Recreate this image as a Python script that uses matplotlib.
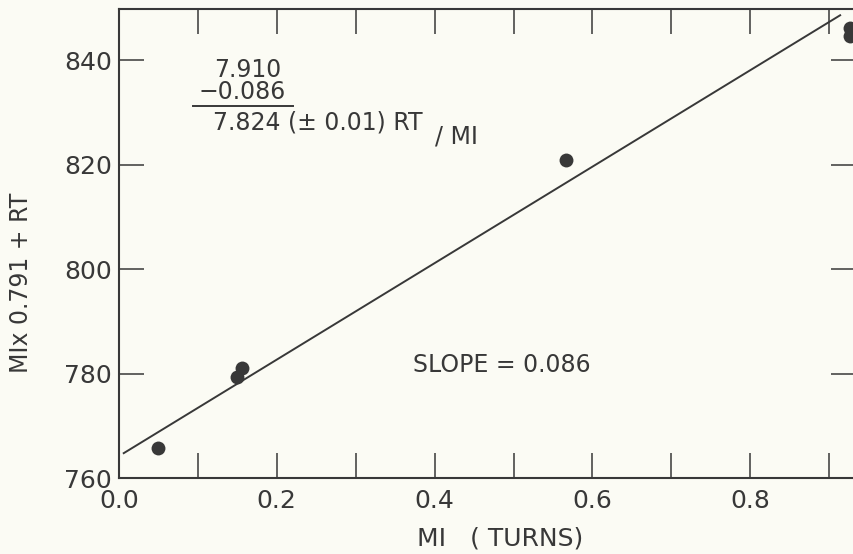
import numpy as np
import matplotlib
matplotlib.use('Agg')
from matplotlib import pyplot as plt

# values
mi_turns = [0.049, 0.150, 0.1555, 0.566, 0.9265, 0.9265]
mi_rt = [765.7, 779.3, 781.0, 820.8, 844.6, 846.1]

# least-squares line as drawn on the original
fit_x = [0.006, 0.914]
fit_slope = 92.3
fit_intercept = 764.2

x_ticks = [0.1 * i for i in range(10)]
x_labels = ['0.0', '', '0.2', '', '0.4', '', '0.6', '', '0.8', '']
y_ticks = [760, 780, 800, 820, 840]
y_labels = ['760', '780', '800', '820', '840']

ink = '#383838'
paper = '#fbfbf4'

plt.rcParams['font.family'] = ['DejaVu Sans']

fig = plt.figure(figsize=(8.54, 5.54), dpi=100, facecolor=paper)
ax = fig.add_axes([119 / 854, 76 / 554, 737 / 854, 469 / 554])
ax.set_facecolor(paper)

ax.set_xlim(0, 737 / 789)
ax.set_ylim(760, 760 + 469 / 5.225)

fit_y = [fit_intercept + fit_slope * x for x in fit_x]
ax.plot(fit_x, fit_y, color=ink, lw=1.4)
ax.plot(mi_turns, mi_rt, 'o', color=ink, ms=10, mec='none')

ax.set_xticks(x_ticks)
ax.set_xticklabels(x_labels)
ax.set_yticks(y_ticks)
ax.set_yticklabels(y_labels)
ax.tick_params(direction='in', length=18, width=1.1, color=ink, labelcolor=ink,
               labelsize=18, top=True, right=True)
ax.tick_params(axis='x', pad=8)
ax.tick_params(axis='y', pad=5)
for s in ax.spines.values():
    s.set_color(ink)
    s.set_linewidth(1.5)

ax.set_xlabel('MI   ( TURNS)', fontsize=18, color=ink)
ax.xaxis.set_label_coords(0.517, -0.104)
ax.set_ylabel('MIx 0.791 + RT', fontsize=17, color=ink)
ax.yaxis.set_label_coords(-0.117, 0.416)

# annotation block
ax.text(0.1635, 838.1, '7.910', ha='center', va='center', fontsize=17, color=ink)
ax.text(0.1565, 833.9, '\u22120.086', ha='center', va='center', fontsize=17, color=ink)
ax.plot([0.094, 0.2205], [831.2, 831.2], color=ink, lw=1.4)
ax.text(0.119, 828.1, '7.824 (± 0.01) RT', ha='left', va='center', fontsize=17, color=ink)
ax.text(0.401, 825.3, '/ MI', ha='left', va='center', fontsize=17, color=ink)
ax.text(0.3726, 781.6, 'SLOPE = 0.086', ha='left', va='center', fontsize=17, color=ink)

fig.savefig('out.png', dpi=100, facecolor=paper)
